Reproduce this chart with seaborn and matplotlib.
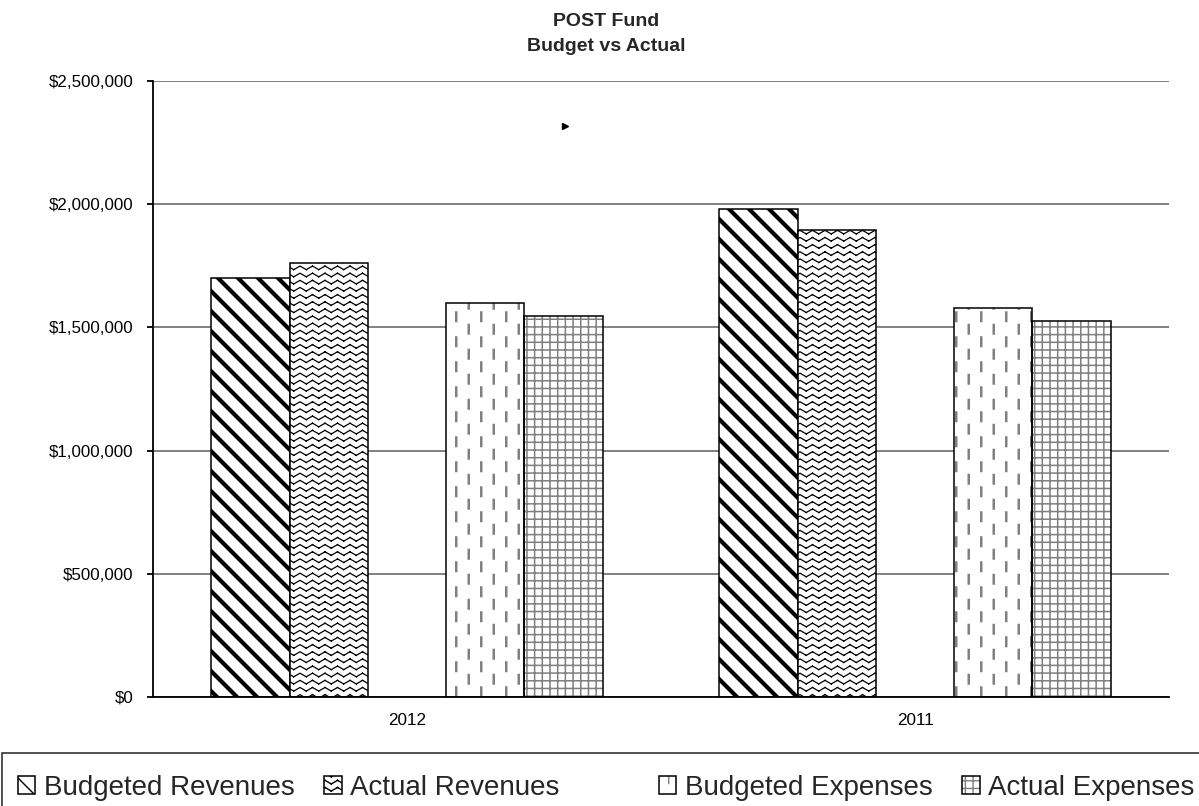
import warnings
import numpy as np
import pandas as pd
import matplotlib
matplotlib.use("Agg")
import matplotlib.pyplot as plt
import matplotlib.hatch as mhatch
from matplotlib.path import Path
from matplotlib.patches import Patch, Rectangle
from matplotlib.lines import Line2D
from matplotlib.ticker import FuncFormatter
import seaborn as sns

# ---- data -------------------------------------------------------------
years = ["2012", "2011"]
series = ["Budgeted Revenues", "Actual Revenues", "",
          "Budgeted Expenses", "Actual Expenses"]
budgeted_revenues = [1700000, 1980000]
actual_revenues = [1760000, 1897000]
spacer = [np.nan, np.nan]          # empty slot between revenues and expenses
budgeted_expenses = [1600000, 1580000]
actual_expenses = [1545000, 1527000]
y_ticks = [0, 500000, 1000000, 1500000, 2000000, 2500000]

# ---- custom fill patterns --------------------------------------------
warnings.filterwarnings("ignore", message=".*hatch must consist.*")


class _SegmentHatch(mhatch.HatchPatternBase):
    char = None

    def __init__(self, hatch, density):
        if hatch and self.char in hatch:
            self.segments = np.asarray(self.build(), dtype=float)
        else:
            self.segments = np.empty((0, 2, 2))
        self.num_vertices = len(self.segments) * 2

    def set_vertices_and_codes(self, vertices, codes):
        vertices[:] = self.segments.reshape(-1, 2)
        codes[0::2] = Path.MOVETO
        codes[1::2] = Path.LINETO


class _BandHatch(_SegmentHatch):
    char = "k"

    def build(self):
        return [[[s, 1 + s], [1 + s, s]] for s in np.linspace(-0.5, 0.5, 11)]


class _ZigzagHatch(_SegmentHatch):
    char = "z"

    def build(self):
        segs = []
        rows, periods, amp = 14, 8, 0.018
        xs = np.linspace(0, 1, 2 * periods + 1)
        for r in range(rows):
            y = (r + 0.5) / rows
            ys = y + np.where(np.arange(len(xs)) % 2 == 0, amp, -amp)
            for i in range(len(xs) - 1):
                segs.append([[xs[i], ys[i]], [xs[i + 1], ys[i + 1]]])
        return segs


class _DashHatch(_SegmentHatch):
    char = "d"

    def build(self):
        segs = []
        cols, period, dash = 8, 0.25, 0.085
        for c in range(cols):
            x = (c + 0.5) / cols
            off = 0.0 if c % 2 == 0 else period / 2
            for k in range(-1, 5):
                y0 = k * period + off + 0.04
                segs.append([[x, y0], [x, y0 + dash]])
        return segs


class _GridHatch(_SegmentHatch):
    char = "g"

    def build(self):
        segs = []
        n = 13
        for i in range(n):
            v = (i + 0.5) / n
            segs.append([[-0.01, v], [1.01, v]])
            segs.append([[v, -0.01], [v, 1.01]])
        return segs


mhatch._hatch_types.extend([_BandHatch, _ZigzagHatch, _DashHatch, _GridHatch])

GRAY = "#808080"
styles = {
    "Budgeted Revenues": dict(hatch="k", color="black", hlw=3.0),
    "Actual Revenues": dict(hatch="z", color="black", hlw=0.9),
    "Budgeted Expenses": dict(hatch="d", color=GRAY, hlw=1.8),
    "Actual Expenses": dict(hatch="g", color=GRAY, hlw=1.1),
}
EDGE_LW = 1.1

# ---- figure -----------------------------------------------------------
sns.set_style("white")
plt.rcParams["font.family"] = ["Liberation Sans", "DejaVu Sans"]

W, H = 1199, 806
fig = plt.figure(figsize=(W / 100, H / 100), dpi=100)
ax = fig.add_axes([153 / W, 1 - 697 / H, (1169 - 153) / W, (697 - 81) / H])

values = {
    series[0]: budgeted_revenues,
    series[1]: actual_revenues,
    series[2]: spacer,
    series[3]: budgeted_expenses,
    series[4]: actual_expenses,
}
rows = [(y, s, v) for s, vals in values.items() for y, v in zip(years, vals)]
df = pd.DataFrame(rows, columns=["year", "series", "amount"])

group_width = 0.77
sns.barplot(data=df, x="year", y="amount", hue="series",
            order=years, hue_order=series,
            palette={s: "white" for s in series},
            width=group_width, gap=0, dodge=True, saturation=1,
            edgecolor="black", linewidth=EDGE_LW, errorbar=None,
            legend=False, ax=ax)


def _set_hlw(artist, lw):
    if hasattr(artist, "set_hatch_linewidth"):
        artist.set_hatch_linewidth(lw)


slot = group_width / len(series)
for p in list(ax.patches):
    cx = p.get_x() + p.get_width() / 2
    cat = round(cx)
    idx = int(round((cx - cat) / slot + (len(series) - 1) / 2))
    name = series[idx]
    if name not in styles or not np.isfinite(p.get_height()):
        p.set_visible(False)
        continue
    st = styles[name]
    p.set_hatch(st["hatch"])
    _set_hlw(p, st["hlw"])
    if st["color"] != "black":
        p.set_edgecolor(st["color"])
        p.set_linewidth(0)
        ax.add_patch(Rectangle(p.get_xy(), p.get_width(), p.get_height(),
                               fill=False, edgecolor="black",
                               linewidth=EDGE_LW,
                               zorder=p.get_zorder() + 0.1))

# ---- axes styling -------------------------------------------------------
ax.set_xlim(-0.5, 1.5)
ax.set_ylim(0, 2500000)
ax.set_yticks(y_ticks)
ax.yaxis.set_major_formatter(FuncFormatter(lambda v, _: f"${v:,.0f}"))
ax.set_axisbelow(True)
ax.yaxis.grid(True, color=GRAY, linewidth=1.4)
ax.xaxis.grid(False)
ax.set_xlabel("")
ax.set_ylabel("")
for side in ("top", "right"):
    ax.spines[side].set_visible(False)
for side in ("left", "bottom"):
    ax.spines[side].set_color("black")
    ax.spines[side].set_linewidth(1.3)

ax.set_xticks([-0.5, 0.5, 1.5], minor=True)
ax.tick_params(axis="x", which="major", length=0, pad=11.5, labelsize=12.3,
               colors="black")
ax.tick_params(axis="x", which="minor", length=5, width=1.3, direction="out",
               color="black")
ax.tick_params(axis="y", which="major", length=4.5, width=1.3,
               direction="out", pad=9.5, labelsize=12.2, colors="black",
               left=True)

# ---- title --------------------------------------------------------------
fig.text(606 / W, 1 - 26 / H, "POST Fund", ha="center", va="baseline",
         fontsize=14, fontweight="bold")
fig.text(606 / W, 1 - 51 / H, "Budget vs Actual", ha="center",
         va="baseline", fontsize=14, fontweight="bold")

# small pointer mark in the plot area
fig.add_artist(Line2D([565 / W], [1 - 126 / H], transform=fig.transFigure,
                      marker=">", markersize=5, color="black", linestyle=""))

# ---- legend ---------------------------------------------------------------
def _handle(name):
    st = styles[name]
    if st["color"] == "black":
        h = Patch(facecolor="white", edgecolor="black", hatch=st["hatch"],
                  linewidth=EDGE_LW)
        _set_hlw(h, st["hlw"])
        return h
    fill = Patch(facecolor="white", edgecolor=st["color"], hatch=st["hatch"],
                 linewidth=0)
    _set_hlw(fill, st["hlw"])
    outline = Patch(fill=False, edgecolor="black", linewidth=EDGE_LW)
    return (fill, outline)


legend_kw = dict(loc="center left", frameon=False, fontsize=20,
                 handlelength=0.62, handleheight=0.62, handletextpad=0.3,
                 columnspacing=1.08, borderpad=0, borderaxespad=0, ncol=2)
rev = ["Budgeted Revenues", "Actual Revenues"]
exp = ["Budgeted Expenses", "Actual Expenses"]
fig.legend([_handle(n) for n in rev], rev,
           bbox_to_anchor=(18 / W, 1 - 788 / H), **legend_kw)
fig.legend([_handle(n) for n in exp], exp,
           bbox_to_anchor=(659 / W, 1 - 788 / H), **legend_kw)

fig.add_artist(Rectangle((2 / W, -0.1), 1.2, (806 - 753) / H + 0.1,
                         transform=fig.transFigure, fill=False,
                         edgecolor="#333333", linewidth=1.2, clip_on=False))

fig.savefig("out.png", dpi=100)
